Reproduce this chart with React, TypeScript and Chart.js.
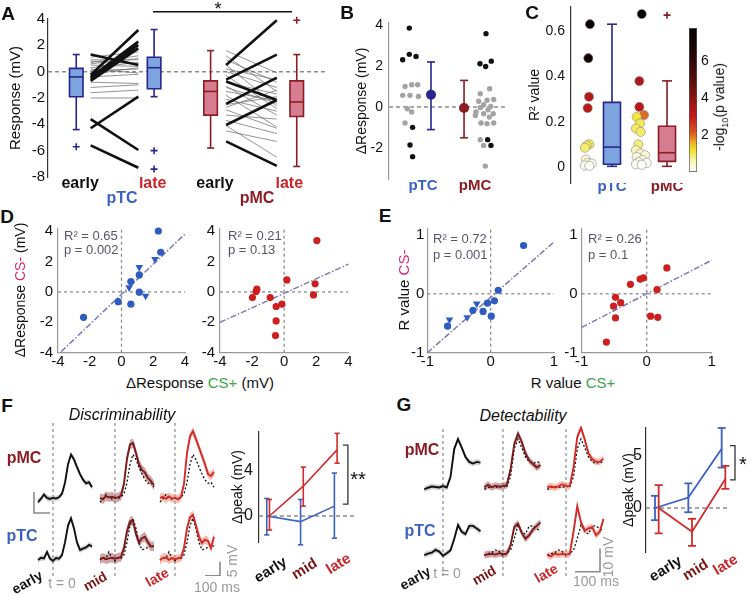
import React, { useEffect, useRef } from "react";
import { Chart, registerables } from "chart.js";

Chart.register(...registerables);

const FF = "'Liberation Sans', Arial, Helvetica, sans-serif";
Chart.defaults.font.family = FF;
Chart.defaults.color = "#111";

// ---------- palette ----------
const BLUE = "#3b62c2";
const NAVY = "#26268c";
const DRED = "#8c1d24";
const RED = "#d22b2b";
const MIDRED = "#7a1616";
const LATERED = "#c8252b";
const ZERO = "#8c8c8c";
const MAGENTA = "#d8287c";
const GREEN = "#3aa846";
const FIT = "#7b79b2";
const TXTGRAY = "#9a9a9a";
const STATTXT = "#55556a";

// ================= DATA =================
// ---- Panel A (Response, mV): box stats = [low whisker, q1, median, q3, high whisker]
const aCatLabels = ["early", "late", "early", "late"];
const aCatColors = ["#111", LATERED, "#111", LATERED];
const aBoxStats = [
  [-4.4, -1.9, -0.4, 0.25, 1.3],
  [-1.9, -1.3, 0.3, 1.1, 3.2],
  [-5.8, -3.3, -1.5, -0.7, 1.6],
  [-7.2, -3.4, -2.3, -0.7, 1.3],
];
const aOutliers = [[-5.7], [-6.0, -7.4], [], [3.9]];
const aTcThickEarly = [1.3, -0.25, -0.43, -0.56, -0.7, -3.6, -4.3, -5.6];
const aTcThickLate = [0.5, 3.16, 2.28, 2.03, 1.77, -5.95, -1.9, -7.3];
const aTcThinEarly = [1.1, 0.9, 0.8, 0.7, 0.5, 0.3, 0.1, -0.2, -0.4, -0.8, -1.2, -1.6, -2.0, 0.6, 0.2];
const aTcThinLate = [1.5, 0.9, 0.6, 1.2, 0.4, 0.7, 0.2, 0.3, -0.2, -0.9, -1.0, -1.4, -2.0, 1.0, -0.1];
const aMcThickEarly = [0.5, -0.6, -0.75, -2.45, -4.05, -5.3];
const aMcThickLate = [3.9, 1.3, -2.15, -0.45, -2.15, -7.15];
const aMcThinEarly = [1.6, 1.2, 0.9, 0.5, 0.0, -0.3, -0.8, -1.1, -1.5, -1.8, -2.1, -2.5, -2.9, -3.3, -3.7, -4.1, -4.5, -1.2, -2.7, 0.2];
const aMcThinLate = [-0.1, -1.5, -0.8, -2.6, -1.2, -2.8, -1.7, -3.3, -2.2, -4.2, -3.0, -1.9, -4.3, -3.6, -4.7, -6.5, -5.3, -2.4, -1.4, -0.6];
const aYTicks = [-8, -6, -4, -2, 0, 2, 4];

// ---- Panel B (ΔResponse, mV)
const bGroupLabels = ["pTC", "pMC"];
const bTcBlackY = [3.85, 2.57, 2.47, 2.31, -0.99, -1.85, -2.42];
const bTcBlackJit = [-0.08, -0.08, 0.49, -0.64, 0.2, -0.02, 0.2];
const bTcGrayY = [1.0, 1.09, 1.09, 0.57, 0.57, 0.52, -0.08, -0.24, -0.78];
const bTcGrayJit = [-0.44, 0.12, 0.63, -0.64, -0.02, 0.69, -0.25, 0.12, -0.44];
const bMcBlackY = [3.58, 2.11, 2.24, 1.98, -1.59, -1.87];
const bMcBlackJit = [0.02, -0.49, 0.47, -0.01, 0.16, 0.44];
const bMcGrayY = [0.89, 0.65, 0.37, 0.33, 0.28, 0.11, 0.03, -0.03, -0.13, -0.24, -0.33, -0.33, -0.49, -0.41, -0.78, -0.81, -0.78, -1.59, -1.87, -2.88];
const bMcGrayJit = [0.33, -0.47, 0.67, 0.11, -0.6, -0.18, 0.42, -0.47, 0.2, -0.83, -0.18, 0.63, 0.3, -0.88, -0.4, 0.11, 0.67, -0.47, -0.18, -0.04];
const bMean = [0.6, -0.05];
const bMeanLo = [-1.1, -1.5];
const bMeanHi = [2.2, 1.3];
const bYTicks = [-2, 0, 2, 4];

// ---- Panel C (R² value, coloured by -log10 p)
const cTcR2 = [0.63, 0.48, 0.31, 0.26, 0.1, 0.095, 0.085, 0.033, 0.018, 0.015, 0.007, 0.005];
const cTcLogP = [7.5, 7.0, 3.3, 3.2, 1.0, 1.0, 0.9, 0.3, 0.2, 0.15, 0.1, 0.05];
const cTcJit = [0.18, 0.03, 0.09, -0.03, 0.12, -0.12, -0.28, -0.18, -0.03, 0.34, -0.28, 0.12];
const cMcR2 = [0.675, 0.379, 0.265, 0.229, 0.221, 0.192, 0.17, 0.155, 0.1, 0.074, 0.059, 0.052, 0.044, 0.032, 0.022, 0.018, 0.012, 0.01];
const cMcLogP = [7.6, 3.4, 3.2, 2.0, 1.1, 1.0, 0.95, 0.9, 0.85, 0.6, 0.4, 0.3, 0.25, 0.2, 0.15, 0.1, 0.08, 0.05];
const cMcJit = [-0.01, -0.23, -0.23, 0.2, -0.47, -0.17, -0.54, -0.11, -0.33, -0.54, -0.11, 0.29, -0.47, 0.08, -0.33, 0.44, -0.54, -0.01];
const cBoxStats = [
  [0.003, 0.012, 0.088, 0.285, 0.63],
  [0.003, 0.025, 0.063, 0.18, 0.38],
];
const cOutliers = [[], [0.67]];
const cYTicks = [0, 0.2, 0.4, 0.6];
const cbTicks = [2, 4, 6];
const CB_MAX = 7.8;
const cbStops: [number, string][] = [
  [0, "#ffffff"], [0.08, "#f8f4b0"], [0.15, "#f2e22a"], [0.2, "#ecb426"], [0.27, "#dc5a20"],
  [0.385, "#c41a1a"], [0.59, "#6a1010"], [0.8, "#260606"], [1, "#000000"],
];

// ---- Panel D (ΔResponse CS+ vs CS-)
const dTicks = [-4, -2, 0, 2, 4];
const dTcCircX = [2.32, 2.47, 1.12, 0.59, 1.12, -0.21, 0.59, -2.39];
const dTcCircY = [4.01, 2.61, 1.12, 0.68, -0.02, -0.64, -0.81, -1.67];
const dTcTriX = [1.12, 2.11, 0.48, 1.52];
const dTcTriY = [1.62, 2.15, 0.29, -0.26];
const dTcFitX = [-3.8, 4.05];
const dTcFitY = [-3.93, 3.86];
const dMcX = [2.04, 1.93, 1.83, 0.17, -0.14, -0.5, -0.5, -0.54, -0.87, -1.7, -1.75, -1.98];
const dMcY = [3.38, 0.53, -0.2, 0.79, -0.81, -0.96, -1.91, -2.87, -0.37, 0.18, 0.02, -0.37];
const dMcFitX = [-4, 4];
const dMcFitY = [-2.0, 1.82];

// ---- Panel E (R value CS+ vs CS-)
const eTicks = [-1, 0, 1];
const eTcCircX = [0.52, 0.12, 0.06, -0.05, -0.12, 0.01, -0.28, -0.68];
const eTcCircY = [0.82, 0.06, -0.12, -0.16, -0.3, -0.38, -0.28, -0.55];
const eTcTriX = [-0.65, -0.22, -0.37];
const eTcTriY = [-0.44, -0.17, -0.4];
const eTcFitX = [-1, 1.01];
const eTcFitY = [-1.0, 0.89];
const eMcX = [0.31, 0.16, -0.05, -0.1, -0.25, -0.48, -0.4, -0.51, -0.48, 0.06, 0.17, -0.62];
const eMcY = [0.44, 0.07, 0.27, 0.25, 0.16, -0.06, -0.15, -0.21, -0.41, -0.38, -0.4, -0.82];
const eMcFitX = [-1, 1];
const eMcFitY = [-0.57, 0.57];

// ---- Panel F traces (ms, mV)
const tF = [-100, -80, -60, -40, -20, 0, 20, 40, 60, 80, 100, 120, 140, 160, 180, 200, 220, 240, 260];
const fMcEarly = [-1.5, -0.3, 1.2, 0.0, -0.4, 0.0, -0.2, 0.2, 1.5, 5.4, 12.0, 15.5, 13.7, 11.0, 8.5, 6.5, 5.2, 5.6, 3.8];
const fMcMid = [0.0, -0.5, 0.6, 0.2, 0.4, 0.0, 0.2, 0.8, 5.0, 14.0, 19.0, 19.6, 16.0, 12.0, 10.0, 9.0, 7.0, 6.0, 4.5];
const fMcLate = [0.0, 0.4, -0.3, 0.5, -0.2, 0.0, -0.5, 0.3, 5.0, 16.0, 22.0, 23.8, 21.0, 18.0, 15.0, 12.0, 8.5, 7.8, 9.3];
const fTcEarly = [-0.3, 0.5, 0.3, 2.6, 0.2, -0.6, 0.4, 0.2, 1.5, 6.0, 12.0, 14.6, 11.0, 6.0, 3.3, 3.8, 4.2, 5.1, 4.6];
const fTcMid = [0.0, 0.5, 0.0, 0.3, 0.5, 0.2, 0.5, 0.8, 4.0, 10.0, 13.5, 13.6, 9.0, 6.0, 7.5, 8.0, 6.0, 4.5, 4.6];
const fTcLate = [-0.3, 0.5, 0.6, -0.2, 0.4, 0.0, 0.3, 0.5, 4.0, 11.0, 15.0, 15.8, 12.0, 8.0, 5.8, 7.0, 6.5, 4.0, 8.0];
const fSem = [1.0, 1.7, 1.5];
const fSegOffset = [0, 413, 813];
const fRowOffset = [21.9, 0];

// ---- Panel F Δpeak
const fBlue = [0, -0.5, 0.88];
const fBlueLo = [-1.68, -2.56, -1.97];
const fBlueHi = [1.56, 1.47, 3.82];
const fRed = [0, 2.65, 5.88];
const fRedLo = [-1.24, 0.88, 4.7];
const fRedHi = [1.47, 4.35, 7.35];

// ---- Panel G traces
const tG = [-75, -60, -45, -30, -15, 0, 15, 30, 45, 60, 75, 90, 105, 120, 135, 150];
const gMcEarly = [-0.4, 0.3, 0.8, 0.6, 0.4, 1.0, 0.4, 5.0, 17.0, 21.2, 17.5, 13.5, 11.4, 10.7, 11.4, 11.1];
const gMcMid = [0.5, 1.5, 0.5, 1.2, 0.8, 1.0, 1.5, 8.0, 19.0, 23.5, 20.0, 15.0, 12.0, 10.5, 9.0, 10.0];
const gMcLate = [0.6, 0.8, 0.4, 0.9, 1.8, 1.0, 1.0, 9.0, 22.0, 26.0, 21.0, 15.0, 12.5, 11.5, 11.4, 12.8];
const gTcEarly = [0.0, 0.6, 1.0, 2.2, 1.5, -0.3, 0.8, 2.0, 7.0, 12.9, 10.0, 9.0, 12.5, 12.5, 11.4, 10.2];
const gTcMid = [0.0, 0.3, 0.5, 0.2, 0.8, 0.4, 0.6, 4.0, 12.0, 13.5, 9.5, 7.0, 8.5, 11.0, 12.5, 14.0];
const gTcLate = [0.0, -0.5, 0.6, 0.2, 0.5, 0.3, 0.4, 10.0, 21.0, 14.0, 10.5, 11.5, 12.0, 8.5, 10.0, 15.5];
const gSem = [1.2, 1.5, 1.5];
const gSegOffset = [0, 240, 492];
const gRowOffset = [28.6, 0];

// ---- Panel G Δpeak
const gBlue = [0, 1.01, 5.7];
const gBlueLo = [-1.17, -0.41, 3.89];
const gBlueHi = [1.17, 2.37, 7.69];
const gRed = [0, -2.28, 2.78];
const gRedLo = [-2.44, -3.64, 1.84];
const gRedHi = [2.2, -1.04, 4.05];
const peakCats = [1, 2, 3];

// ================= HELPERS =================
type Box = { l: number; t: number; w: number; h: number };
type Area = { l: number; t: number; r: number; b: number };

function frame(box: Box, area: Area) {
  return {
    padding: { left: 0, top: area.t - box.t, right: box.l + box.w - area.r, bottom: 0 },
    yW: area.l - box.l,
    xH: box.t + box.h - area.b,
  };
}
const fitY = (w: number) => (s: any) => {
  s.width = w; s.paddingTop = 0; s.paddingBottom = 0; s.paddingLeft = 0; s.paddingRight = 0;
};
const fitX = (h: number) => (s: any) => {
  s.height = h; s.paddingTop = 0; s.paddingBottom = 0; s.paddingLeft = 0; s.paddingRight = 0;
};
const setTicks = (vals: number[]) => (s: any) => {
  s.ticks = vals.map((v) => ({ value: v }));
};

function baseOptions(padding: any, scales: any) {
  return {
    responsive: false,
    animation: false,
    devicePixelRatio: 1,
    events: [],
    layout: { padding, autoPadding: false },
    plugins: { legend: { display: false }, tooltip: { enabled: false } },
    scales,
  };
}

function yScale(o: any) {
  return {
    type: "linear",
    position: o.position || "left",
    min: o.min,
    max: o.max,
    offset: false,
    afterBuildTicks: setTicks(o.ticks),
    afterFit: fitY(o.w),
    grid: { display: false, drawTicks: false, offset: false },
    border: { display: o.border !== null, color: o.border || "#333", width: o.bw || 1.2 },
    ticks: {
      display: o.showTicks !== false,
      font: { size: o.size || 14 },
      color: "#111",
      padding: o.pad ?? 4,
      autoSkip: false,
      callback: (v: any) => String(v),
    },
    title: o.title
      ? { display: true, text: o.title, font: { size: o.titleSize || 14 }, color: "#111", padding: { top: o.titlePad || 0, bottom: 0 } }
      : { display: false },
  };
}

function xScale(o: any) {
  return {
    type: "linear",
    min: o.min,
    max: o.max,
    offset: false,
    afterBuildTicks: setTicks(o.ticks || []),
    afterFit: fitX(o.h),
    grid: { display: false, drawTicks: false, offset: false },
    border: { display: !!o.border, color: o.border || "#333", width: o.bw || 1.2 },
    ticks: {
      display: o.showTicks !== false,
      font: { size: o.size || 14, weight: o.bold ? "bold" : "normal" },
      color: o.colors ? (c: any) => o.colors[c.index] : "#111",
      padding: o.pad ?? 0,
      autoSkip: false,
      maxRotation: 0,
      minRotation: 0,
      callback: (v: any, i: number) => (o.labels ? o.labels[i] : String(v)),
    },
  };
}

function lineDS(data: any[], color: string, width: number, dash: number[] = []) {
  return {
    type: "line", data, borderColor: color, borderWidth: width, borderDash: dash,
    pointRadius: 0, fill: false, tension: 0, spanGaps: false, clip: false,
  };
}
function ptsDS(data: any[], o: any) {
  return {
    type: "line", showLine: false, data,
    pointStyle: o.style || "circle",
    pointRadius: o.r,
    pointBackgroundColor: o.bg ?? "transparent",
    pointBorderColor: o.border ?? "transparent",
    pointBorderWidth: o.bw ?? 0,
    pointRotation: o.rot || 0,
    clip: false,
  };
}
function edgeDS(data: any[], fill: any, bg: string) {
  return {
    type: "line", data, borderColor: "transparent", borderWidth: 0, pointRadius: 0,
    fill, backgroundColor: bg, clip: false, tension: 0,
  };
}
const xy = (xs: number[], ys: number[]) => xs.map((x, i) => ({ x, y: ys[i] }));
function pairs(e: number[], l: number[], x0: number, x1: number) {
  return e.flatMap((v, i) => [{ x: x0, y: v }, { x: x1, y: l[i] }, { x: x1, y: null }]);
}
function ordered(ds: any[]) {
  return ds.map((d, i) => ({ ...d, order: ds.length - i }));
}

// box = whiskers + filled rectangle (two edges filled between) + outline + median + caps + outliers
function boxSets(pos: number[], stats: number[][], outl: number[][], fills: string[], strokes: string[], halfW: number, capR: number, lw: number) {
  const out: any[] = [];
  pos.forEach((p, i) => {
    const [lo, q1, md, q3, hi] = stats[i];
    out.push(lineDS([{ x: p, y: lo }, { x: p, y: q1 }, { x: p, y: null }, { x: p, y: q3 }, { x: p, y: hi }], strokes[i], lw));
    out.push(edgeDS([{ x: p - halfW, y: q3 }, { x: p + halfW, y: q3 }], "+1", fills[i]));
    out.push(edgeDS([{ x: p - halfW, y: q1 }, { x: p + halfW, y: q1 }], false, fills[i]));
    out.push(lineDS([
      { x: p - halfW, y: q1 }, { x: p - halfW, y: q3 }, { x: p + halfW, y: q3 },
      { x: p + halfW, y: q1 }, { x: p - halfW, y: q1 }, { x: p - halfW, y: q3 },
    ], strokes[i], lw));
    out.push(lineDS([{ x: p - halfW, y: md }, { x: p + halfW, y: md }], strokes[i], lw));
    out.push(ptsDS([{ x: p, y: lo }, { x: p, y: hi }], { style: "line", r: capR, border: strokes[i], bw: lw }));
    out.push(ptsDS(outl[i].map((v) => ({ x: p, y: v })), { style: "cross", r: 3.5, border: strokes[i], bw: 1.6 }));
  });
  return out;
}

function hexToRgb(h: string) {
  const n = parseInt(h.slice(1), 16);
  return [(n >> 16) & 255, (n >> 8) & 255, n & 255];
}
function cmap(v: number) {
  const f = Math.max(0, Math.min(1, v / CB_MAX));
  for (let i = 1; i < cbStops.length; i++) {
    if (f <= cbStops[i][0]) {
      const [p0, c0] = cbStops[i - 1];
      const [p1, c1] = cbStops[i];
      const k = (f - p0) / (p1 - p0);
      const a = hexToRgb(c0), b = hexToRgb(c1);
      return `rgb(${a.map((x, j) => Math.round(x + (b[j] - x) * k)).join(",")})`;
    }
  }
  return "#000";
}

// ================= CHART CONFIGS =================
const A_BOX_X = [1.02, 3.83, 5.87, 8.98];
const A_TICK_X = [1.16, 3.78, 6.03, 8.71];
const A_PAIR_X = [[1.54, 3.26], [6.43, 8.26]];

function makeA() {
  const box = { l: 0, t: 0, w: 335, h: 200 };
  const area = { l: 48, t: 19, r: 325, b: 177 };
  const fr = frame(box, area);
  const ds: any[] = [];
  ds.push(lineDS([{ x: 0, y: 0 }, { x: 10, y: 0 }], ZERO, 1.5, [4, 3]));
  ds.push(lineDS([{ x: 3.79, y: 4.55 }, { x: 8.81, y: 4.55 }], "#111", 1.5));
  ds.push(lineDS(pairs(aTcThinEarly, aTcThinLate, A_PAIR_X[0][0], A_PAIR_X[0][1]), "#666", 0.7));
  ds.push(lineDS(pairs(aMcThinEarly, aMcThinLate, A_PAIR_X[1][0], A_PAIR_X[1][1]), "#666", 0.7));
  ds.push(lineDS(pairs(aTcThickEarly, aTcThickLate, A_PAIR_X[0][0], A_PAIR_X[0][1]), "#111", 2.6));
  ds.push(lineDS(pairs(aMcThickEarly, aMcThickLate, A_PAIR_X[1][0], A_PAIR_X[1][1]), "#111", 2.6));
  ds.push(...boxSets(A_BOX_X, aBoxStats, aOutliers,
    ["#7ea4e0", "#7ea4e0", "#d67d90", "#d67d90"], [NAVY, NAVY, DRED, DRED], 0.244, 3.5, 1.6));
  return {
    type: "line",
    data: { datasets: ordered(ds) },
    options: baseOptions(fr.padding, {
      x: xScale({ min: 0, max: 10, h: fr.xH, ticks: A_TICK_X, labels: aCatLabels, colors: aCatColors, size: 16, bold: true, pad: -3 }),
      y: yScale({ min: -8, max: 4, ticks: aYTicks, w: fr.yW, size: 15, pad: 3, border: "#333", title: "Response (mV)", titleSize: 15, titlePad: 7 }),
    }),
  };
}

const B_TC_X = 1.8, B_MC_X = 8.2;
const B_MEAN_X = [3.56, 6.36];
const B_LABEL_X = [2.88, 7.29];
function makeB() {
  const box = { l: 335, t: 0, w: 180, h: 200 };
  const area = { l: 389, t: 23, r: 507, b: 179 };
  const fr = frame(box, area);
  const ds: any[] = [];
  ds.push(lineDS([{ x: 0, y: 0 }, { x: 10, y: 0 }], ZERO, 1.4, [4, 3]));
  const dot = (jit: number[], ys: number[], c0: number, col: string) =>
    ptsDS(ys.map((y, i) => ({ x: c0 + jit[i], y })), { r: 2.7, bg: col });
  ds.push(dot(bTcGrayJit, bTcGrayY, B_TC_X, "#a3a3a3"));
  ds.push(dot(bMcGrayJit, bMcGrayY, B_MC_X, "#a3a3a3"));
  ds.push(dot(bTcBlackJit, bTcBlackY, B_TC_X, "#111"));
  ds.push(dot(bMcBlackJit, bMcBlackY, B_MC_X, "#111"));
  const cols = [NAVY, DRED];
  B_MEAN_X.forEach((x, i) => {
    ds.push(lineDS([{ x, y: bMeanLo[i] }, { x, y: bMeanHi[i] }], cols[i], 1.6));
    ds.push(ptsDS([{ x, y: bMeanLo[i] }, { x, y: bMeanHi[i] }], { style: "line", r: 4, border: cols[i], bw: 1.6 }));
    ds.push(ptsDS([{ x, y: bMean[i] }], { r: 5, bg: cols[i] }));
  });
  return {
    type: "line",
    data: { datasets: ordered(ds) },
    options: baseOptions(fr.padding, {
      x: xScale({ min: 0, max: 10, h: fr.xH, ticks: B_LABEL_X, labels: bGroupLabels, colors: [BLUE, DRED], size: 15, bold: true, pad: -2 }),
      y: yScale({ min: -3.51, max: 4.1, ticks: bYTicks, w: fr.yW, size: 14, pad: 6, border: "#999", title: "ΔResponse (mV)", titleSize: 14, titlePad: 19 }),
    }),
  };
}

const C_TC_X = 1.56, C_MC_X = 6.5;
const C_BOX_X = [3.76, 8.81];
function makeC() {
  const box = { l: 515, t: 0, w: 174, h: 200 };
  const area = { l: 571, t: 7, r: 680, b: 183 };
  const fr = frame(box, area);
  const ds: any[] = [];
  ds.push(ptsDS(cTcR2.map((y, i) => ({ x: C_TC_X + cTcJit[i], y })), { r: 4.6, bg: cTcLogP.map(cmap), border: "#8a8a8a", bw: 0.6 }));
  ds.push(ptsDS(cMcR2.map((y, i) => ({ x: C_MC_X + cMcJit[i], y })), { r: 4.6, bg: cMcLogP.map(cmap), border: "#8a8a8a", bw: 0.6 }));
  ds.push(...boxSets(C_BOX_X, cBoxStats, cOutliers, ["#7ea4e0", "#d67d90"], [NAVY, DRED], 0.78, 5, 1.6));
  return {
    type: "line",
    data: { datasets: ordered(ds) },
    options: baseOptions(fr.padding, {
      x: xScale({ min: 0, max: 10, h: fr.xH, ticks: C_BOX_X, labels: bGroupLabels, colors: [BLUE, DRED], size: 15, bold: true, pad: -5 }),
      y: yScale({ min: -0.0706, max: 0.706, ticks: cYTicks, w: fr.yW, size: 14, pad: 6, border: "#333", title: "R² value", titleSize: 14, titlePad: 12 }),
    }),
  };
}

function makeColorbar() {
  return {
    type: "bar",
    data: {
      labels: [""],
      datasets: [{
        data: [[0, CB_MAX]],
        backgroundColor: (ctx: any) => {
          const a = ctx.chart.chartArea;
          if (!a) return "#000";
          const g = ctx.chart.ctx.createLinearGradient(0, a.bottom, 0, a.top);
          cbStops.forEach(([p, c]) => g.addColorStop(p, c));
          return g;
        },
        borderColor: "#555",
        borderWidth: 1,
        borderSkipped: false,
        barPercentage: 1,
        categoryPercentage: 1,
      }],
    },
    options: baseOptions({ left: 0, top: 28, right: 0, bottom: 0 }, {
      x: { type: "category", afterFit: fitX(28), grid: { display: false }, border: { display: false }, ticks: { display: false } },
      y: yScale({ position: "right", min: 0, max: CB_MAX, ticks: cbTicks, w: 50, size: 14, pad: 4, border: null }),
    }),
  };
}

function scatterPanel(o: any) {
  const fr = frame(o.box, o.area);
  const ds: any[] = [];
  ds.push(lineDS([{ x: o.xMin, y: 0 }, { x: o.xMax, y: 0 }], ZERO, 1.3, [3, 3]));
  ds.push(lineDS([{ x: 0, y: o.yMin }, { x: 0, y: o.yMax }], ZERO, 1.3, [3, 3]));
  ds.push(lineDS(xy(o.fitX, o.fitY), FIT, 1.5, [6, 2, 1.5, 2]));
  ds.push(ptsDS(xy(o.cx, o.cy), { r: 3.6, bg: o.color }));
  if (o.tx) ds.push(ptsDS(xy(o.tx, o.ty), { style: "triangle", r: 4.4, bg: o.color, rot: 180 }));
  return {
    type: "line",
    data: { datasets: ordered(ds) },
    options: baseOptions(fr.padding, {
      x: xScale({ min: o.xMin, max: o.xMax, h: fr.xH, ticks: o.ticks, size: 15, pad: 0, border: "#999" }),
      y: yScale({ min: o.yMin, max: o.yMax, ticks: o.ticks, w: fr.yW, size: 15, pad: o.yPad, border: "#999" }),
    }),
  };
}

function traceChart(o: any) {
  const ds: any[] = [];
  o.segOff.forEach((so: number) => ds.push(lineDS([{ x: so, y: o.yMin }, { x: so, y: o.yMax }], "#8a8a8a", 1.2, [3, 3])));
  o.bars.forEach((b: any) => ds.push(lineDS(b, "#8a8a8a", 1.6)));
  const segCol = ["#111", "#7a1a1a", "#d42a2a"];
  const bandCol = ["rgba(150,150,150,0.45)", "rgba(150,60,60,0.45)", "rgba(238,130,100,0.5)"];
  o.rows.forEach((row: number[][], r: number) => {
    const off = o.rowOff[r];
    row.forEach((vals, s) => {
      const so = o.segOff[s];
      ds.push(edgeDS(o.t.map((t: number, i: number) => ({ x: t + so, y: vals[i] + off + o.sem[s] })), "+1", bandCol[s]));
      ds.push(edgeDS(o.t.map((t: number, i: number) => ({ x: t + so, y: vals[i] + off - o.sem[s] })), false, bandCol[s]));
    });
  });
  o.rows.forEach((row: number[][], r: number) => {
    const off = o.rowOff[r];
    [1, 2].forEach((s) => {
      const so = o.segOff[s];
      ds.push(lineDS(o.t.map((t: number, i: number) => ({ x: t + so, y: row[0][i] + off })), "#111", 1.3, [2, 2]));
    });
  });
  o.rows.forEach((row: number[][], r: number) => {
    const off = o.rowOff[r];
    row.forEach((vals, s) => {
      const so = o.segOff[s];
      ds.push(lineDS(o.t.map((t: number, i: number) => ({ x: t + so, y: vals[i] + off })), segCol[s], 1.9));
    });
  });
  return {
    type: "line",
    data: { datasets: ordered(ds) },
    options: baseOptions({ left: 0, top: 0, right: 0, bottom: 0 }, {
      x: { type: "linear", display: false, min: o.xMin, max: o.xMax, offset: false },
      y: { type: "linear", display: false, min: o.yMin, max: o.yMax },
    }),
  };
}

function peakChart(o: any) {
  const fr = frame(o.box, o.area);
  const ds: any[] = [];
  ds.push(lineDS([{ x: o.xMin, y: 0 }, { x: o.zeroEnd, y: 0 }], ZERO, 1.5, [4, 3]));
  const series = (xs: number[], v: number[], lo: number[], hi: number[], color: string) => {
    ds.push(lineDS(xy(xs, v), color, o.lw));
    ds.push(lineDS(xs.flatMap((x, i) => [{ x, y: lo[i] }, { x, y: hi[i] }, { x, y: null }]), color, o.lw));
    ds.push(ptsDS(xs.flatMap((x, i) => [{ x, y: lo[i] }, { x, y: hi[i] }]), { style: "line", r: o.capR, border: color, bw: o.lw }));
  };
  series(peakCats, o.blue, o.blueLo, o.blueHi, BLUE);
  series(peakCats.map((x) => x + o.redShift), o.red, o.redLo, o.redHi, RED);
  ds.push(lineDS([{ x: o.brX[0], y: o.brY[0] }, { x: o.brX[1], y: o.brY[0] }, { x: o.brX[1], y: o.brY[1] }, { x: o.brX[0], y: o.brY[1] }], "#333", 1.3));
  return {
    type: "line",
    data: { datasets: ordered(ds) },
    options: baseOptions(fr.padding, {
      x: xScale({ min: o.xMin, max: o.xMax, h: fr.xH, showTicks: false }),
      y: yScale({ min: o.yMin, max: o.yMax, ticks: o.yTicks, w: fr.yW, size: 16, pad: o.tickPad, border: "#333", title: "Δpeak (mV)", titleSize: 14, titlePad: o.titlePad }),
    }),
  };
}

// ================= COMPONENTS =================
function ChartBox({ box, make }: { box: Box; make: () => any }) {
  const ref = useRef<HTMLCanvasElement | null>(null);
  useEffect(() => {
    if (!ref.current) return;
    const ch = new Chart(ref.current, make());
    return () => ch.destroy();
  }, []);
  return (
    <canvas
      ref={ref}
      width={box.w}
      height={box.h}
      style={{ position: "absolute", left: box.l, top: box.t, width: box.w, height: box.h }}
    />
  );
}

function T(p: { x: number; y: number; s?: number; c?: string; b?: boolean; i?: boolean; r?: number; left?: boolean; children: any }) {
  const tx = p.left ? "0" : "-50%";
  return (
    <div
      style={{
        position: "absolute", left: p.x, top: p.y,
        transform: `translate(${tx},-50%) rotate(${p.r || 0}deg)`,
        transformOrigin: p.left ? "left center" : "center",
        fontFamily: FF, fontSize: p.s || 14, color: p.c || "#111",
        fontWeight: p.b ? "bold" : "normal", fontStyle: p.i ? "italic" : "normal",
        whiteSpace: "nowrap", lineHeight: 1,
      }}
    >
      {p.children}
    </div>
  );
}

export default function App() {
  const charts: { box: Box; make: () => any }[] = [
    { box: { l: 0, t: 0, w: 335, h: 200 }, make: makeA },
    { box: { l: 335, t: 0, w: 180, h: 200 }, make: makeB },
    { box: { l: 515, t: 0, w: 174, h: 200 }, make: makeC },
    { box: { l: 689, t: 0, w: 58, h: 200 }, make: makeColorbar },
    {
      box: { l: 25, t: 222, w: 165, h: 150 },
      make: () => scatterPanel({ box: { l: 25, t: 222, w: 165, h: 150 }, area: { l: 58, t: 229, r: 185, b: 352.7 }, xMin: -4, xMax: 4, yMin: -4, yMax: 4.14, ticks: dTicks, yPad: 5, cx: dTcCircX, cy: dTcCircY, tx: dTcTriX, ty: dTcTriY, fitX: dTcFitX, fitY: dTcFitY, color: "#2f5cbf" }),
    },
    {
      box: { l: 195, t: 222, w: 160, h: 150 },
      make: () => scatterPanel({ box: { l: 195, t: 222, w: 160, h: 150 }, area: { l: 220, t: 229, r: 348.3, b: 352.7 }, xMin: -4, xMax: 4, yMin: -4, yMax: 4.14, ticks: dTicks, yPad: 5, cx: dMcX, cy: dMcY, fitX: dMcFitX, fitY: dMcFitY, color: "#cc2020" }),
    },
    {
      box: { l: 400, t: 222, w: 160, h: 150 },
      make: () => scatterPanel({ box: { l: 400, t: 222, w: 160, h: 150 }, area: { l: 427.3, t: 229, r: 554, b: 352.7 }, xMin: -1, xMax: 1, yMin: -1, yMax: 1.1, ticks: eTicks, yPad: 3, cx: eTcCircX, cy: eTcCircY, tx: eTcTriX, ty: eTcTriY, fitX: eTcFitX, fitY: eTcFitY, color: "#2f5cbf" }),
    },
    {
      box: { l: 562, t: 222, w: 160, h: 150 },
      make: () => scatterPanel({ box: { l: 562, t: 222, w: 160, h: 150 }, area: { l: 581.7, t: 229, r: 711.7, b: 352.7 }, xMin: -1, xMax: 1, yMin: -1, yMax: 1.1, ticks: eTicks, yPad: 4, cx: eMcX, cy: eMcY, fitX: eMcFitX, fitY: eMcFitY, color: "#cc2020" }),
    },
    {
      box: { l: 32, t: 422, w: 200, h: 154 },
      make: () => traceChart({
        t: tF, rows: [[fMcEarly, fMcMid, fMcLate], [fTcEarly, fTcMid, fTcLate]], rowOff: fRowOffset, segOff: fSegOffset, sem: fSem,
        xMin: -140, xMax: 1193, yMin: -6.0, yMax: 49.0,
        bars: [
          [{ x: 1013, y: -5.9 }, { x: 1113, y: -5.9 }, { x: 1113, y: -0.9 }],
          [{ x: -127, y: 24 }, { x: -127, y: 16.5 }, { x: -20, y: 16.5 }],
        ],
      }),
    },
    {
      box: { l: 420, t: 426, w: 190, h: 150 },
      make: () => traceChart({
        t: tG, rows: [[gMcEarly, gMcMid, gMcLate], [gTcEarly, gTcMid, gTcLate]], rowOff: gRowOffset, segOff: gSegOffset, sem: gSem,
        xMin: -92, xMax: 668, yMin: -9.0, yMax: 55.4,
        bars: [[{ x: 528, y: -7.2 }, { x: 628, y: -7.2 }, { x: 628, y: 2.8 }]],
      }),
    },
    {
      box: { l: 215, t: 425, w: 150, h: 171 },
      make: () => peakChart({
        box: { l: 215, t: 425, w: 150, h: 171 }, area: { l: 259, t: 432, r: 355, b: 542 },
        xMin: 0.77, xMax: 3.61, zeroEnd: 3.61, yMin: -2.31, yMax: 7.47, yTicks: [0, 4],
        blue: fBlue, blueLo: fBlueLo, blueHi: fBlueHi, red: fRed, redLo: fRedLo, redHi: fRedHi,
        redShift: 0.08, capR: 2.6, lw: 1.6, brX: [3.25, 3.4], brY: [6.3, 1.06], tickPad: 6, titlePad: 15,
      }),
    },
    {
      box: { l: 600, t: 420, w: 147, h: 176 },
      make: () => peakChart({
        box: { l: 600, t: 420, w: 147, h: 176 }, area: { l: 646, t: 428, r: 737, b: 552 },
        xMin: 0.73, xMax: 3.46, zeroEnd: 3.25, yMin: -4.23, yMax: 7.69, yTicks: [0, 5],
        blue: gBlue, blueLo: gBlueLo, blueHi: gBlueHi, red: gRed, redLo: gRedLo, redHi: gRedHi,
        redShift: 0.11, capR: 4, lw: 1.8, brX: [3.25, 3.4], brY: [6.0, 2.7], tickPad: 4, titlePad: 21,
      }),
    },
  ];

  return (
    <div style={{ position: "fixed", left: 0, top: 0, width: 747, height: 596, background: "#fff", overflow: "hidden" }}>
      {charts.map((c, i) => (
        <ChartBox key={i} box={c.box} make={c.make} />
      ))}

      {/* panel letters */}
      <T x={8} y={13} s={19} b>A</T>
      <T x={347} y={12} s={19} b>B</T>
      <T x={532} y={12} s={19} b>C</T>
      <T x={7} y={216} s={19} b>D</T>
      <T x={385} y={215} s={19} b>E</T>
      <T x={7} y={405} s={19} b>F</T>
      <T x={404} y={404} s={19} b>G</T>

      {/* A */}
      <T x={122} y={198} s={16} b c={BLUE}>pTC</T>
      <T x={257} y={198} s={16} b c={DRED}>pMC</T>
      <T x={218} y={9} s={18}>*</T>

      {/* C colorbar label */}
      <T x={721} y={107} s={14} r={-90}>
        -log<sub style={{ fontSize: 9 }}>10</sub>(p value)
      </T>

      {/* D */}
      <T x={20} y={290} s={14} r={-90}>
        ΔResponse <span style={{ color: MAGENTA }}>CS-</span> (mV)
      </T>
      <T x={200} y={382} s={15}>
        ΔResponse <span style={{ color: GREEN }}>CS+</span> (mV)
      </T>
      <T x={64} y={235} s={13} c={STATTXT} left>R² = 0.65</T>
      <T x={64} y={249} s={13} c={STATTXT} left>p = 0.002</T>
      <T x={228} y={235} s={13} c={STATTXT} left>R² = 0.21</T>
      <T x={228} y={249} s={13} c={STATTXT} left>p = 0.13</T>

      {/* E */}
      <T x={403} y={290} s={15} r={-90}>
        R value <span style={{ color: MAGENTA }}>CS-</span>
      </T>
      <T x={573} y={382} s={15}>
        R value <span style={{ color: GREEN }}>CS+</span>
      </T>
      <T x={433} y={238} s={13} c={STATTXT} left>R² = 0.72</T>
      <T x={433} y={254} s={13} c={STATTXT} left>p = 0.001</T>
      <T x={588} y={238} s={13} c={STATTXT} left>R² = 0.26</T>
      <T x={588} y={254} s={13} c={STATTXT} left>p = 0.1</T>

      {/* F */}
      <T x={122} y={415} s={16} i>Discriminability</T>
      <T x={24} y={458} s={16} b c={DRED}>pMC</T>
      <T x={22} y={536} s={16} b c={BLUE}>pTC</T>
      <T x={27} y={582} s={14} b r={-30}>early</T>
      <T x={62} y={583} s={14} c={TXTGRAY}>t = 0</T>
      <T x={95} y={581} s={14} b c={MIDRED} r={-30}>mid</T>
      <T x={157} y={577} s={14} b c={LATERED} r={-30}>late</T>
      <T x={232} y={561} s={14} c={TXTGRAY} r={-90}>5 mV</T>
      <T x={217} y={587} s={14} c={TXTGRAY}>100 ms</T>
      <T x={270} y={569} s={15} b r={-32}>early</T>
      <T x={304} y={568} s={15} b c={MIDRED} r={-32}>mid</T>
      <T x={338} y={563} s={15} b c={LATERED} r={-32}>late</T>
      <T x={358} y={479} s={20}>**</T>

      {/* G */}
      <T x={523} y={416} s={16} i>Detectability</T>
      <T x={422} y={450} s={16} b c={DRED}>pMC</T>
      <T x={420} y={531} s={16} b c={BLUE}>pTC</T>
      <T x={415} y={578} s={14} b r={-30}>early</T>
      <T x={447} y={573} s={14} c={TXTGRAY}>t = 0</T>
      <T x={484} y={575} s={14} b c={MIDRED} r={-30}>mid</T>
      <T x={546} y={573} s={14} b c={LATERED} r={-30}>late</T>
      <T x={608} y={557} s={14} c={TXTGRAY} r={-90}>10 mV</T>
      <T x={596} y={581} s={14} c={TXTGRAY}>100 ms</T>
      <T x={665} y={568} s={15} b r={-32}>early</T>
      <T x={695} y={569} s={15} b c={MIDRED} r={-32}>mid</T>
      <T x={725} y={564} s={15} b c={LATERED} r={-32}>late</T>
      <T x={743} y={464} s={20}>*</T>
    </div>
  );
}
